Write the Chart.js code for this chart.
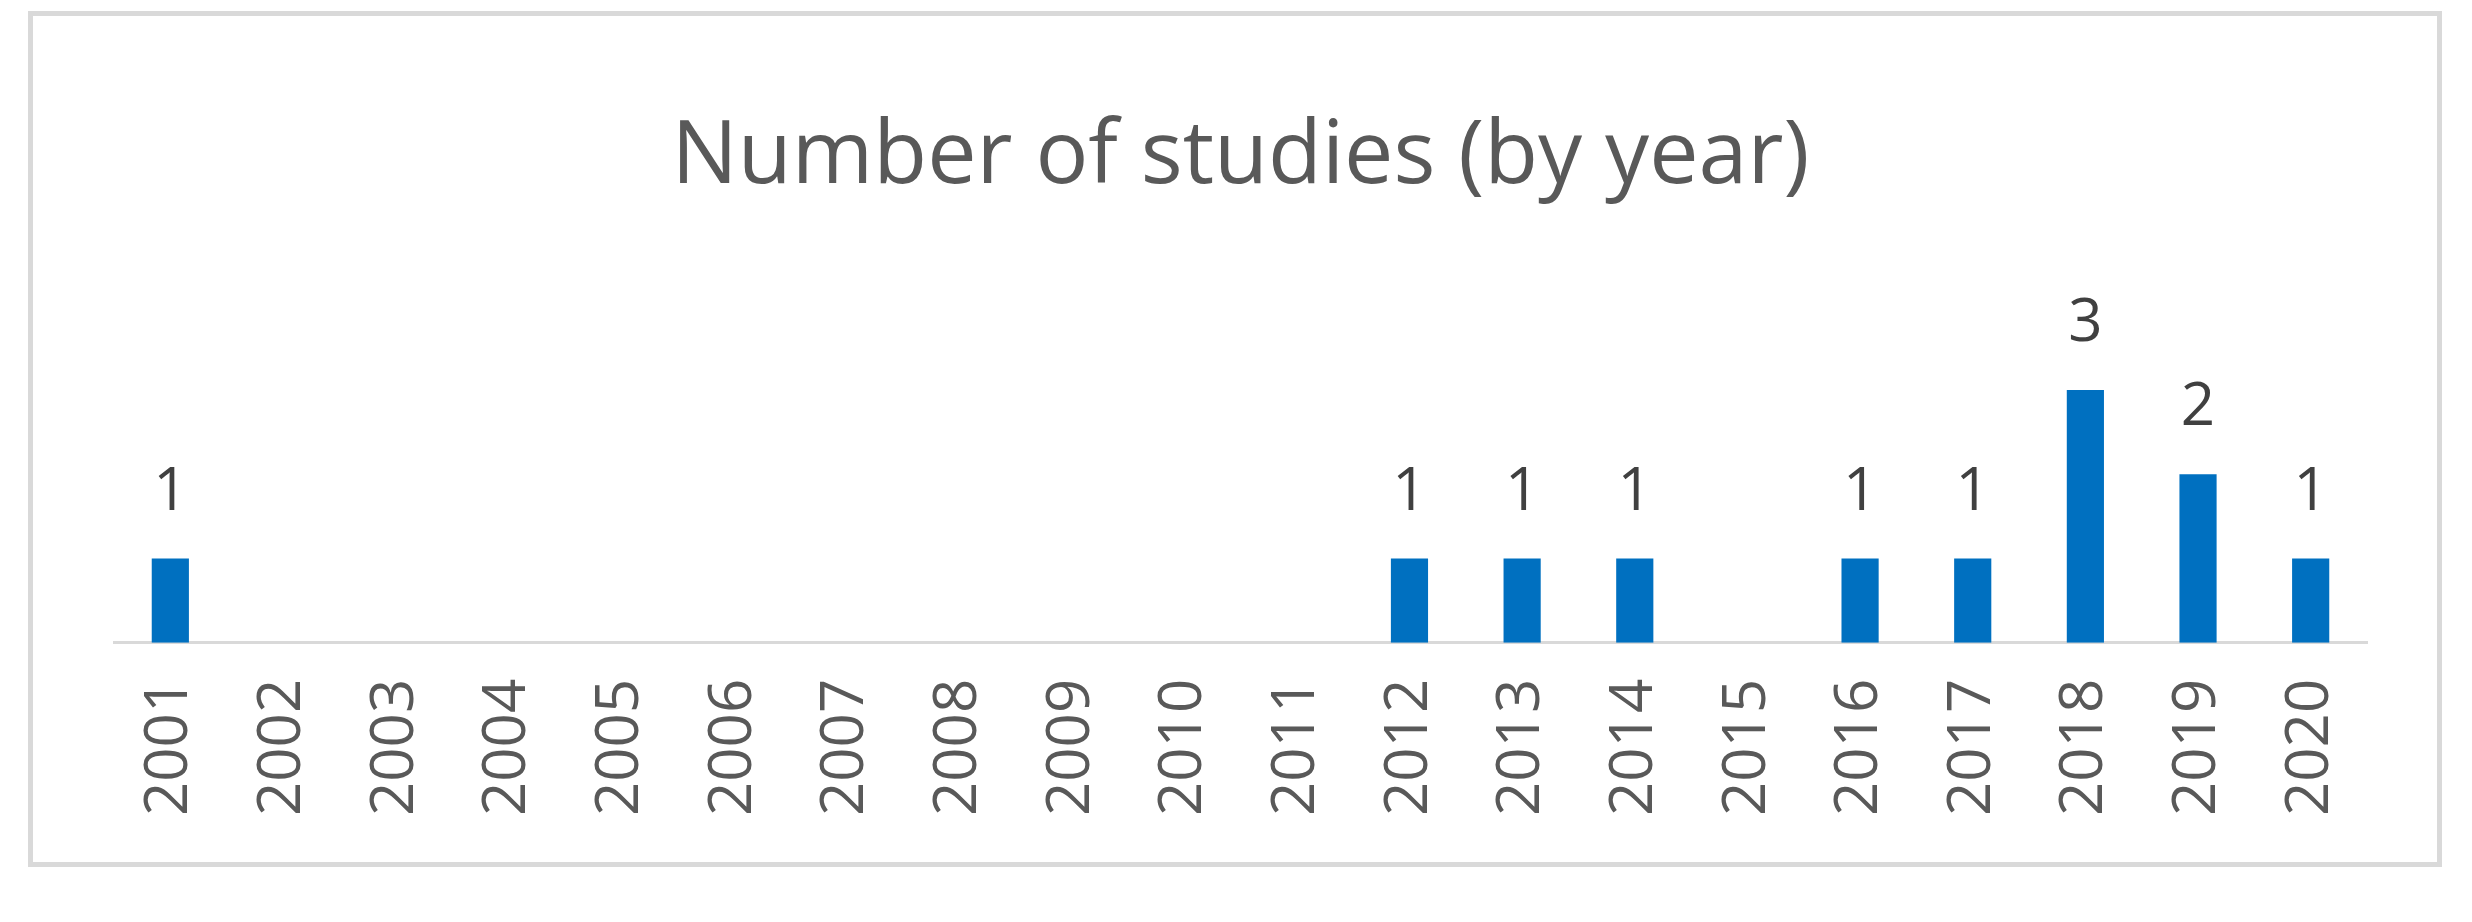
<!DOCTYPE html>
<html><head><meta charset="utf-8">
<script src="https://cdn.jsdelivr.net/npm/chart.js@4"></script>
<style>
html,body{margin:0;padding:0;background:#fff;}
#box{position:absolute;left:28px;top:11px;width:2404px;height:846px;border:5px solid #D9D9D9;background:#fff;}
canvas{display:block;}
</style></head><body>
<div id="box"><canvas id="c" width="2404" height="846"></canvas></div>
<script>
const categories = ["2001","2002","2003","2004","2005","2006","2007","2008","2009","2010","2011","2012","2013","2014","2015","2016","2017","2018","2019","2020"];
const studies = [1,0,0,0,0,0,0,0,0,0,0,1,1,1,0,1,1,3,2,1];
const titleText = "Number of studies (by year)";

const valueLabels = {
  id:'valueLabels',
  afterDatasetsDraw(chart){
    const ctx = chart.ctx;
    const meta = chart.getDatasetMeta(0);
    ctx.save();
    ctx.fillStyle = '#404040';
    ctx.font = '60px "Open Sans", sans-serif';
    ctx.textAlign = 'center';
    ctx.textBaseline = 'bottom';
    meta.data.forEach((bar,i)=>{
      if (studies[i] > 0) ctx.fillText(String(studies[i]), bar.x, bar.y - 36);
    });
    ctx.restore();
  }
};

new Chart(document.getElementById('c'), {
  type:'bar',
  data:{ labels: categories, datasets:[{ data: studies, backgroundColor:'#0070C0', barPercentage:0.33, categoryPercentage:1 }]},
  options:{
    responsive:false, animation:false, devicePixelRatio:1,
    layout:{ padding:{ left:81, right:70, top:89, bottom:10 } },
    plugins:{
      legend:{display:false}, tooltip:{enabled:false},
      title:{ display:true, text:titleText, color:'#595959', font:{ family:'"Open Sans", sans-serif', size:88, weight:'normal' }, padding:{top:0,bottom:95} }
    },
    scales:{
      x:{ grid:{display:false, drawTicks:false}, border:{display:true,color:'#D9D9D9',width:3},
          ticks:{ color:'#595959', font:{family:'"Open Sans", sans-serif', size:60}, minRotation:90, maxRotation:90, padding:36 } },
      y:{ display:false, min:0, max:4 }
    }
  },
  plugins:[valueLabels]
});
</script></body></html>
